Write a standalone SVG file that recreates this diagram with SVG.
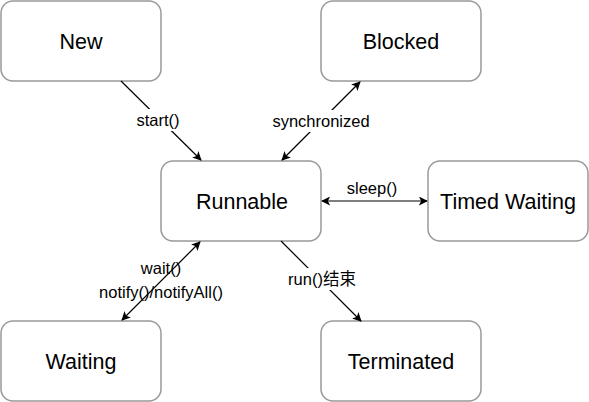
<svg xmlns="http://www.w3.org/2000/svg" width="589" height="402" viewBox="0 0 589 402">
<style>
.node rect{fill:#fff;stroke:#999;stroke-width:1.5}
.node text{font-family:"Liberation Sans",Arial,sans-serif;font-size:21.5px;fill:#000;text-anchor:middle;dominant-baseline:central}
.edge line{stroke:#000;stroke-width:1.2}
.lbl{font-family:"Liberation Sans","Noto Sans CJK SC",Arial,sans-serif;font-size:16.5px;fill:#000;text-anchor:middle;dominant-baseline:central}
.bg{fill:#fff}
</style>
<defs>
<marker id="ah" viewBox="0 0 10 10" refX="9" refY="5" markerWidth="9" markerHeight="9" markerUnits="userSpaceOnUse" orient="auto-start-reverse">
<path d="M0,0 L10,5 L0,10 L2.5,5 z" fill="#000"/>
</marker>
</defs>
<rect width="589" height="402" fill="#fff"/>
<g id="n-new" class="node"><rect x="1" y="1" width="160" height="80" rx="12"/><text x="81" y="42">New</text></g>
<g id="n-blocked" class="node"><rect x="321" y="1" width="160" height="80" rx="12"/><text x="401" y="42">Blocked</text></g>
<g id="n-runnable" class="node"><rect x="161" y="161" width="160" height="80" rx="12"/><text x="242" y="202">Runnable</text></g>
<g id="n-timed" class="node"><rect x="428" y="161" width="160" height="80" rx="12"/><text x="508" y="202">Timed Waiting</text></g>
<g id="n-waiting" class="node"><rect x="1" y="321" width="160" height="80" rx="12"/><text x="81" y="362">Waiting</text></g>
<g id="n-terminated" class="node"><rect x="321" y="321" width="160" height="80" rx="12"/><text x="401" y="362">Terminated</text></g>
<g id="connectors" class="edge">
<line x1="121" y1="81" x2="201" y2="160" marker-end="url(#ah)"/>
<rect class="bg" x="133" y="109" width="60" height="22"/>
<text class="lbl" x="158" y="120">start()</text>
<line x1="282" y1="160" x2="360" y2="82" marker-start="url(#ah)" marker-end="url(#ah)"/>
<rect class="bg" x="271" y="110" width="100" height="22"/>
<text class="lbl" x="321" y="121">synchronized</text>
<line x1="322" y1="201" x2="427" y2="201" marker-start="url(#ah)" marker-end="url(#ah)"/>
<text class="lbl" x="372" y="188">sleep()</text>
<line x1="200" y1="242" x2="122" y2="320" marker-start="url(#ah)" marker-end="url(#ah)"/>
<text class="lbl" x="161" y="268">wait()</text>
<text class="lbl" x="161" y="292">notify()/notifyAll()</text>
<line x1="281" y1="241" x2="361" y2="321" marker-end="url(#ah)"/>
<rect class="bg" x="280" y="268" width="84" height="22"/>
<text class="lbl" x="322" y="279">run()结束</text>
</g>
</svg>
